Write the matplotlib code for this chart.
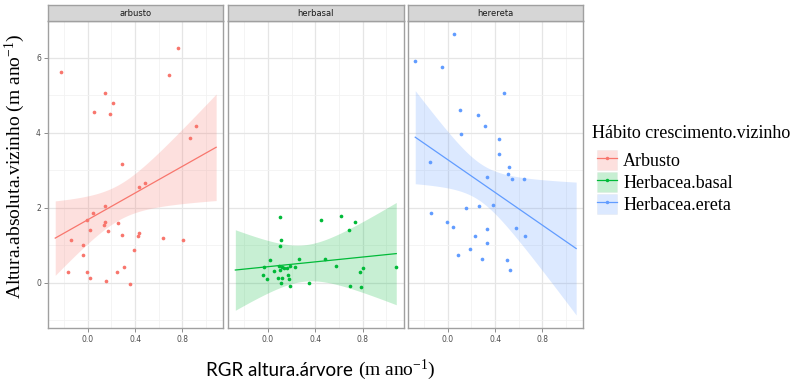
import numpy as np
import matplotlib
matplotlib.use("Agg")
import matplotlib.pyplot as plt
from matplotlib.patches import Patch
from matplotlib.lines import Line2D

# ---- data ----
panels = ["arbusto", "herbasal", "herereta"]
legend_labels = ["Arbusto", "Herbacea.basal", "Herbacea.ereta"]
colors = ["#F8766D", "#00BA38", "#619CFF"]

arb_x = [-0.225, 0.766, 0.687, 0.144, 0.214, 0.056, 0.189, 0.915, 0.862, 0.293,
         0.485, 0.434, 0.144, 0.048, -0.006, 0.144, 0.254, 0.135, 0.023, 0.175,
         0.285, 0.434, 0.428, 0.639, 0.806, -0.141, -0.039, -0.039, 0.389, 0.310,
         -0.163, -0.006, 0.245, 0.017, 0.152, 0.360]
arb_y = [5.63, 6.25, 5.53, 5.05, 4.78, 4.55, 4.51, 4.18, 3.87, 3.16,
         2.66, 2.54, 2.04, 1.87, 1.68, 1.63, 1.60, 1.53, 1.40, 1.38,
         1.28, 1.32, 1.25, 1.20, 1.13, 1.13, 1.00, 0.75, 0.88, 0.43,
         0.28, 0.28, 0.28, 0.13, 0.04, -0.03]

hb_x = [0.106, 0.449, 0.617, 0.737, 0.683, 0.111, 0.106, 0.014, 0.266, 0.480,
        -0.031, 0.091, 0.120, 0.137, 0.160, 0.191, 0.226, 0.051, 0.106, -0.040,
        0.169, -0.009, 0.083, 0.120, 0.177, 0.111, 0.186, 0.346, 0.577, 0.800,
        0.777, 0.697, 0.786, 1.085]
hb_y = [1.75, 1.68, 1.79, 1.62, 1.40, 1.13, 0.98, 0.60, 0.62, 0.62,
        0.41, 0.45, 0.43, 0.38, 0.38, 0.45, 0.41, 0.31, 0.33, 0.20,
        0.20, 0.11, 0.13, 0.13, 0.09, 0.00, -0.09, 0.00, 0.45, 0.38,
        0.28, -0.09, -0.12, 0.43]

he_x = [0.054, -0.275, -0.049, 0.471, 0.103, 0.254, 0.311, 0.111, 0.429, -0.151,
        0.437, 0.517, 0.509, 0.543, 0.640, 0.334, 0.383, 0.263, 0.151, -0.143,
        -0.009, 0.046, 0.334, 0.574, 0.654, 0.231, 0.329, 0.186, 0.083, 0.286,
        0.503, 0.526]
he_y = [6.62, 5.90, 5.75, 5.05, 4.61, 4.48, 4.18, 3.96, 3.83, 3.21,
        3.42, 3.09, 2.89, 2.76, 2.76, 2.82, 2.07, 2.04, 2.00, 1.85,
        1.62, 1.49, 1.42, 1.47, 1.25, 1.25, 1.07, 0.91, 0.73, 0.64,
        0.60, 0.35]

xs = [arb_x, hb_x, he_x]
ys = [arb_y, hb_y, he_y]

x_ticks = [0.0, 0.4, 0.8]
y_ticks = [0, 2, 4, 6]


def t975(df):
    z = 1.959964
    return (z + (z**3 + z) / (4 * df) + (5 * z**5 + 16 * z**3 + 3 * z) / (96 * df**2))


# model y ~ x * group: separate lines, one pooled residual variance
fits = []
ssr = 0.0
n_all = 0
for x, y in zip(xs, ys):
    x = np.asarray(x); y = np.asarray(y)
    b, a = np.polyfit(x, y, 1)
    ssr += np.sum((y - (a + b * x))**2)
    n_all += len(x)
    fits.append((a, b, x))
df = n_all - 2 * len(xs)
s_pool = np.sqrt(ssr / df)
tq = t975(df)


def band(k, grid):
    a, b, x = fits[k]
    fit = a + b * grid
    se = s_pool * np.sqrt(1.0 / len(x) + (grid - x.mean())**2 / np.sum((x - x.mean())**2))
    return fit, fit - tq * se, fit + tq * se


plt.rcParams['font.family'] = ['DejaVu Sans']
serif = 'Liberation Serif'

W, H = 804, 382
fig = plt.figure(figsize=(W / 100, H / 100), dpi=100)

all_x = np.concatenate([np.asarray(v) for v in xs])
grid = np.linspace(all_x.min(), all_x.max(), 80)

lefts = [47.9, 228.0, 407.9]
pw = 175.6
p_top, p_bot, s_top = 21, 328, 5

for i in range(3):
    ax = fig.add_axes([lefts[i] / W, (H - p_bot) / H, pw / W, (p_bot - p_top) / H])
    ax.set_xlim(-0.337, 1.147)
    ax.set_ylim(-1.21, 6.98)
    ax.set_xticks(x_ticks)
    ax.set_xticks([-0.2, 0.2, 0.6, 1.0], minor=True)
    ax.set_yticks(y_ticks)
    ax.set_yticks([-1, 1, 3, 5], minor=True)
    ax.grid(True, which='major', color='#E5E5E5', lw=0.9)
    ax.grid(True, which='minor', color='#F2F2F2', lw=0.6)
    ax.set_axisbelow(True)
    for sp in ax.spines.values():
        sp.set_color('#A0A0A0')
        sp.set_linewidth(1.0)
    ax.tick_params(which='minor', length=0)
    ax.tick_params(which='major', length=3, width=0.7, color='#8C8C8C',
                   labelsize=5.5, labelcolor='#4D4D4D', pad=2)
    ax.set_xticklabels([f"{v:.1f}" for v in x_ticks])
    if i == 0:
        ax.set_yticklabels([str(v) for v in y_ticks])
    else:
        ax.tick_params(axis='y', left=False, labelleft=False)

    fit, lo, hi = band(i, grid)
    ax.fill_between(grid, lo, hi, color=colors[i], alpha=0.22, lw=0)
    ax.plot(grid, fit, color=colors[i], lw=0.9)
    ax.scatter(xs[i], ys[i], s=7, color=colors[i], linewidths=0, zorder=3)

    sax = fig.add_axes([lefts[i] / W, (H - p_top) / H, pw / W, (p_top - s_top) / H])
    sax.set_xticks([]); sax.set_yticks([])
    sax.set_facecolor('#D6D6D6')
    for sp in sax.spines.values():
        sp.set_color('#A0A0A0')
        sp.set_linewidth(1.0)
    sax.text(0.5, 0.45, panels[i], ha='center', va='center', fontsize=6,
             color='#1A1A1A', transform=sax.transAxes)

# axis titles
fig.text(15 / W, 1 - 166 / H, r"Altura.absoluta.vizinho (m ano$\mathregular{^{-1}}$)",
         rotation=90, ha='center', va='center', fontsize=14, family=serif)
t1 = fig.text(206 / W, 1 - 370 / H, "RGR altura.árvore ", ha='left', va='center',
              fontsize=13.5, family='Lato')
fig.canvas.draw()
bb = t1.get_window_extent()
fig.text(bb.x1 / W, 1 - 370 / H, r"(m ano$\mathregular{^{-1}}$)", ha='left', va='center',
         fontsize=14, family=serif)

# legend
fig.text(592 / W, 1 - 134 / H, "Hábito crescimento.vizinho", ha='left', va='center',
         fontsize=13, family=serif)
handles = []
for c in colors:
    handles.append((Patch(facecolor=c, alpha=0.22, edgecolor='#CCCCCC', lw=0.5),
                    Line2D([], [], color=c, lw=0.9, marker='o', markersize=2.5,
                           markeredgewidth=0)))
leg = fig.legend(handles, legend_labels, loc='upper left',
                 bbox_to_anchor=(597 / W, 1 - 150 / H), frameon=False,
                 prop={'family': serif, 'size': 13},
                 handlelength=1.1, handleheight=1.3, handletextpad=0.35,
                 labelspacing=0.12, borderaxespad=0, borderpad=0.0)

fig.savefig("out.png", dpi=100)
